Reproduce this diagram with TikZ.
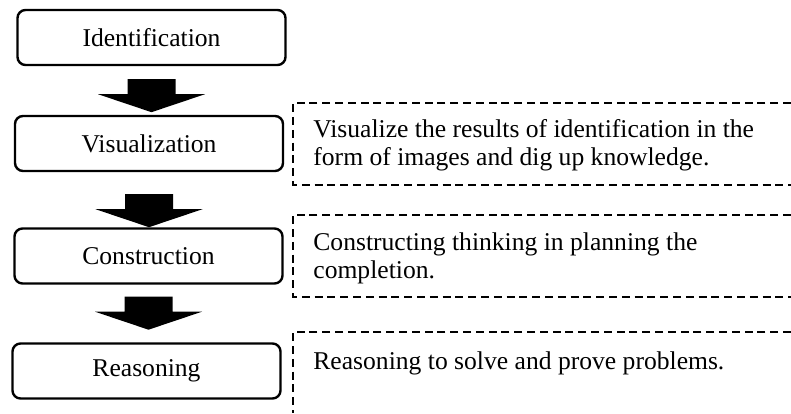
\documentclass[tikz,border=0pt]{standalone}
\usepackage{fontspec}
\setmainfont{Liberation Serif}
\usepackage{tikz}
\usetikzlibrary{calc}

\begin{document}
\begin{tikzpicture}[x=0.5pt,y=0.5pt]
  \path[use as bounding box] (0,0) rectangle (791,413);

  \tikzset{
    stageBox/.style={
      draw=black,
      fill=white,
      line width=1.2pt,
      rounded corners=4pt,
      minimum width=134pt,
      minimum height=27.5pt,
      inner sep=0pt,
      align=center,
      font=\fontsize{12.8pt}{14pt}\selectfont
    },
    noteText/.style={
      anchor=west,
      inner sep=0pt,
      align=left,
      font=\fontsize{12.8pt}{14pt}\selectfont
    },
    noteFrame/.style={
      draw=black,
      line width=1.1pt,
      dash pattern=on 4pt off 2.4pt
    },
    stageArrow/.style={
      fill=black
    }
  }

  \node[stageBox] (ident)  at (151.5,375.5) {Identification};
  \node[stageBox] (visual) at (149,269.5)   {Visualization};
  \node[stageBox] (constr) at (148.5,157)   {Construction};
  \node[stageBox] (reason) at (146.5,42)    {Reasoning};

  % block arrows: shaft 48 wide, head 107 wide
  \foreach \a/\b/\s in {ident/visual/13, visual/constr/22, constr/reason/12}{
    \fill[stageArrow] ($(\a.south)+(-24,-\s)$) -- ++(48,0) -- ++(0,-15)
      -- ++(29.5,0) -- ++(-53.5,-18) -- ++(-53.5,18) -- ++(29.5,0) -- cycle;
  }

  \node[noteText] (visualNote) at (313,268)
    {Visualize the results of identification in the\\form of images and dig up knowledge.};
  \node[noteText] (constrNote) at (313,155)
    {Constructing thinking in planning the\\completion.};
  \node[noteText] (reasonNote) at (313,50)
    {Reasoning to solve and prove problems.};

  \draw[noteFrame] (791,310) -- (293,310) -- (293,228) -- (791,228);
  \draw[noteFrame] (791,198) -- (293,198) -- (293,116) -- (791,116);
  \draw[noteFrame] (791,81) -- (293,81) -- (293,0);
\end{tikzpicture}
\end{document}
